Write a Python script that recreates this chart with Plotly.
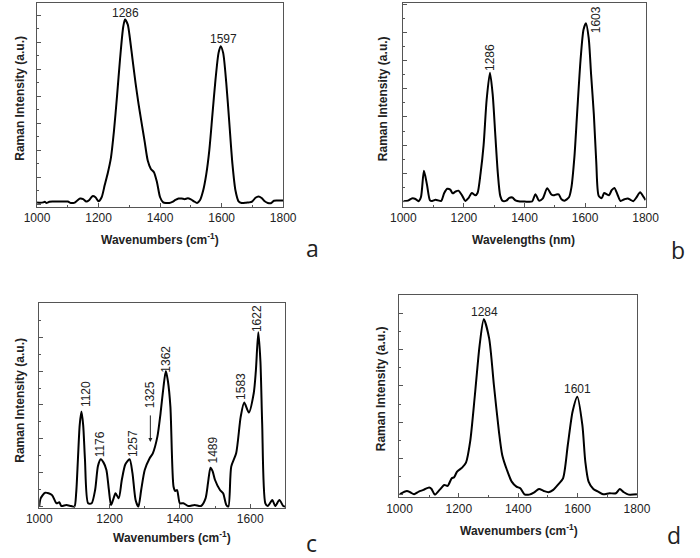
import plotly.graph_objects as go

W, H = 700, 558

# ---------------- data ----------------
a_x = [1000, 1010, 1020, 1025, 1030, 1040, 1050, 1060, 1080, 1100, 1110, 1120, 1130, 1140, 1150, 1160,
       1170, 1180, 1190, 1200, 1210, 1220, 1230, 1240, 1250, 1260, 1270, 1280, 1286, 1295, 1300, 1310,
       1320, 1330, 1340, 1350, 1360, 1370, 1380, 1390, 1400, 1410, 1420, 1430, 1440, 1450, 1460, 1470,
       1480, 1490, 1500, 1510, 1520, 1530, 1540, 1550, 1560, 1570, 1580, 1590, 1597, 1605, 1615, 1625,
       1635, 1645, 1655, 1665, 1680, 1690, 1700, 1710, 1720, 1730, 1740, 1750, 1760, 1770, 1780, 1800]
a_y = [60, 50, 60, 80, 40, 80, 90, 90, 90, 90, 40, 40, 120, 200, 180, 90,
       150, 290, 250, 100, 250, 700, 1150, 1700, 2700, 4000, 5400, 6550, 6840, 6650, 6300, 5400,
       4500, 3700, 3000, 2300, 1600, 1300, 1180, 800, 250, 60, 40, 40, 80, 150, 200, 200,
       180, 210, 170, 100, 40, 150, 500, 1100, 2000, 3300, 4600, 5600, 5850, 5600, 4500, 3000,
       1500, 500, 100, 40, 50, 60, 100, 230, 280, 220, 100, 40, 30, 120, 130, 130]

b_x = [1000, 1015, 1028, 1040, 1050, 1058, 1068, 1078, 1088, 1095, 1106, 1115, 1125, 1135, 1145, 1155,
       1163, 1172, 1182, 1192, 1205, 1215, 1226, 1238, 1245, 1255, 1265, 1275, 1286, 1295, 1304, 1312,
       1320, 1328, 1340, 1350, 1360, 1370, 1385, 1400, 1425, 1436, 1448, 1460, 1475, 1488, 1496, 1505,
       1513, 1522, 1532, 1547, 1555, 1565, 1574, 1585, 1595, 1603, 1612, 1620, 1629, 1637, 1645, 1655,
       1663, 1672, 1679, 1688, 1697, 1707, 1717, 1730, 1741, 1750, 1759, 1770, 1782, 1792, 1800]
b_y = [10, 30, 110, 90, 10, 150, 1090, 600, 40, 20, 60, 40, 20, 300, 450, 420,
       290, 350, 385, 250, 20, 120, 300, 220, 300, 1000, 2000, 3600, 4570, 3800, 2300, 1000,
       200, 20, 30, 130, 140, 40, 0, 0, 0, 260, 30, 100, 470, 260, 220, 250,
       250, 80, 30, 150, 500, 1600, 3160, 5000, 6100, 6320, 5800, 4500, 3100, 1400, 200, 120,
       300, 250, 220, 400, 480, 250, 20, 80, 110, 60, 10, 150, 330, 180, 50]

c_x = [1000, 1004, 1017, 1036, 1049, 1057, 1063, 1077, 1090, 1100, 1105, 1110, 1115, 1120, 1125, 1130,
       1139, 1149, 1159, 1167, 1175, 1183, 1191, 1198, 1204, 1210, 1217, 1226, 1235, 1245, 1257, 1265,
       1274, 1282, 1290, 1300, 1314, 1323, 1336, 1345, 1353, 1360, 1366, 1373, 1382, 1387, 1392, 1400,
       1410, 1424, 1442, 1460, 1473, 1480, 1487, 1493, 1500, 1514, 1523, 1532, 1538, 1546, 1560, 1573,
       1583, 1596, 1610, 1616, 1623, 1629, 1634, 1643, 1650, 1663, 1671, 1683, 1694, 1700]
c_y = [0, 246, 413, 345, 100, 130, 20, 50, 20, 0, 400, 1400, 2400, 2805, 2400, 1400,
       100, 100, 500, 1200, 1398, 1300, 1083, 500, 50, 200, 394, 246, 800, 1250, 1398, 1000,
       200, 0, 500, 1083, 1427, 1575, 2067, 2756, 3500, 4006, 3700, 2953, 590, 463, 490, 100,
       100, 20, 50, 20, 246, 700, 1152, 1050, 787, 492, 394, 50, 0, 1181, 1575, 2657,
       3071, 2776, 3346, 4000, 5148, 4300, 2461, 100, 20, 197, 20, 197, 20, 0]

d_x = [1000, 1025, 1036, 1049, 1065, 1081, 1100, 1108, 1119, 1135, 1151, 1162, 1176, 1184, 1194, 1211,
       1224, 1238, 1254, 1270, 1284, 1302, 1318, 1335, 1346, 1362, 1378, 1394, 1407, 1421, 1437, 1454,
       1470, 1486, 1502, 1518, 1535, 1551, 1567, 1583, 1599, 1616, 1626, 1637, 1653, 1669, 1686, 1707,
       1729, 1742, 1756, 1772, 1800]
d_y = [10, 100, 65, 10, 83, 130, 200, 156, 0, 130, 267, 240, 450, 478, 635, 745,
       883, 1463, 2750, 4130, 4840, 4315, 3027, 1739, 1095, 680, 359, 220, 175, 10, 0, 65,
       156, 100, 65, 130, 285, 450, 1370, 2290, 2705, 1923, 910, 360, 156, 83, 10, 37,
       37, 156, 65, 0, 10]

# peak labels: (text, x, y, angle)
a_labels = [("1286", 1286, 7085, 0), ("1597", 1605, 6111, 0)]
b_labels = [("1286", 1286, 5124, -90), ("1603", 1637, 6436, -90)]
c_labels = [("1120", 1133, 3322, -90), ("1176", 1174, 1851, -90), ("1257", 1267, 1851, -90),
            ("1325", 1316, 3298, -90), ("1362", 1360, 4361, -90), ("1489", 1493, 1674, -90),
            ("1583", 1574, 3534, -90), ("1622", 1620, 5542, -90)]
d_labels = [("1284", 1285, 5037, 0), ("1601", 1599, 2912, 0)]

# ---------------- layout geometry (pixels) ----------------
panels = [
    ("", a_x, a_y, (25, 281, 2.7, 206.7), [1000, 1800], [-100, 7460],
     "Wavenumbers (cm<sup>-1</sup>)", a_labels, "a", (312, 248), (7, 98), (153, 239)),
    ("2", b_x, b_y, (406, 658, 3, 207), [1000, 1800], [-195, 7040],
     "Wavelengths (nm)", b_labels, "b", (692, 250), (385, 99), (531, 240)),
    ("3", c_x, c_y, (27.3, 283.3, 303.3, 507.7), [1000, 1700], [-30, 6000],
     "Wavenumbers (cm<sup>-1</sup>)", c_labels, "c", (310, 543), (7, 400), (165, 537)),
    ("4", d_x, d_y, (402, 649, 294.7, 497.3), [1000, 1800], [-74, 5520],
     "Wavenumbers (cm<sup>-1</sup>)", d_labels, "d", (687, 535), (383, 389), (526, 530)),
]

fig = go.Figure()
annotations = []
layout = dict(
    width=W, height=H, margin=dict(l=0, r=0, t=0, b=0),
    paper_bgcolor="white", plot_bgcolor="white", showlegend=False,
    font=dict(family="Liberation Sans, Arial", color="#222", size=12),
)

BOX = "#555"
for suf, xs, ys, (l, r, t, b), xr, yr, xt, labels, letter, lpos, ytpos, xtpos in panels:
    xa = "x" + suf
    ya = "y" + suf
    fig.add_trace(go.Scatter(x=xs, y=ys, mode="lines", xaxis=xa, yaxis=ya,
                             line=dict(color="black", width=2, shape="spline", smoothing=0.7),
                             hoverinfo="skip"))
    layout["xaxis" + suf] = dict(
        domain=[l / W, r / W], range=xr, anchor=ya, showgrid=False, zeroline=False,
        showline=True, linecolor=BOX, linewidth=1, mirror=True,
        ticks="inside", ticklen=4, tickcolor=BOX, dtick=200, tick0=1000,
        tickfont=dict(size=12, color="#222"),
        minor=dict(ticks="inside", ticklen=2, dtick=100, tick0=1000, tickcolor=BOX),
    )
    layout["yaxis" + suf] = dict(
        domain=[1 - b / H, 1 - t / H], range=yr, anchor=xa, showgrid=False, zeroline=False,
        showline=True, linecolor=BOX, linewidth=1, mirror=True,
        ticks="inside", ticklen=4, tickcolor=BOX, dtick=1000, tick0=0,
        showticklabels=False,
        minor=dict(ticks="inside", ticklen=2, dtick=500, tick0=0, tickcolor=BOX),
    )
    for txt, lx, ly, ang in labels:
        annotations.append(dict(text=txt, x=lx, y=ly, xref=xa, yref=ya, showarrow=False,
                                textangle=ang, xanchor="center", yanchor="middle",
                                font=dict(size=12, color="#222")))
    annotations.append(dict(text=letter, x=lpos[0] / W, y=1 - lpos[1] / H, xref="paper", yref="paper",
                            showarrow=False, xanchor="center", yanchor="middle",
                            font=dict(family="Open Sans", size=23, color="#222")))
    annotations.append(dict(text="<b>Raman Intensity (a.u.)</b>", x=ytpos[0] / W, y=1 - ytpos[1] / H,
                            xref="paper", yref="paper", showarrow=False, textangle=-90,
                            xanchor="center", yanchor="middle", font=dict(size=12, color="#222")))
    annotations.append(dict(text="<b>" + xt + "</b>", x=xtpos[0] / W, y=1 - xtpos[1] / H,
                            xref="paper", yref="paper", showarrow=False,
                            xanchor="center", yanchor="middle", font=dict(size=12, color="#222")))

# arrow pointing to the 1325 shoulder in panel c
annotations.append(dict(x=1316, y=1910, ax=1316, ay=2737, xref="x3", yref="y3", axref="x3", ayref="y3",
                        text="", showarrow=True, arrowhead=2, arrowsize=0.8, arrowwidth=1,
                        arrowcolor="#222"))

layout["annotations"] = annotations
fig.update_layout(**layout)
fig.write_html("out.html")
